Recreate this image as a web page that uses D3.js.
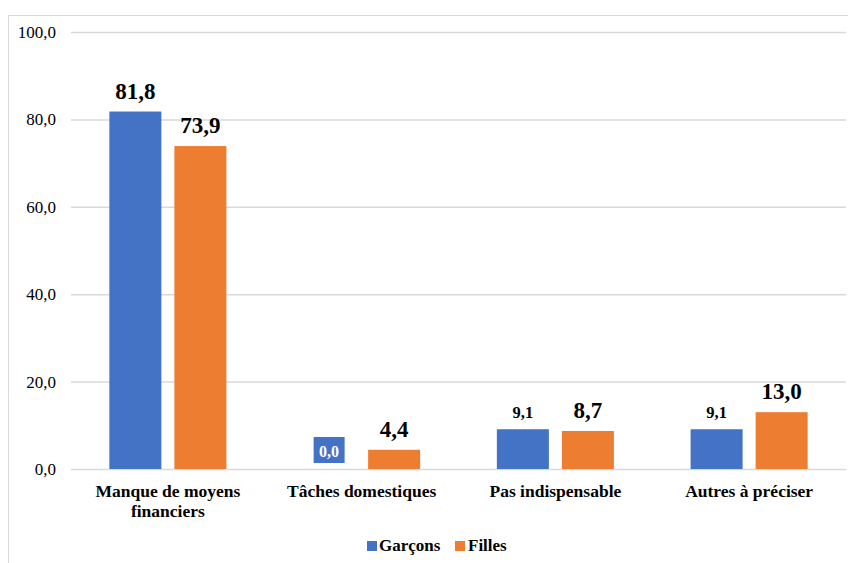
<!DOCTYPE html>
<html>
<head>
<meta charset="utf-8">
<script src="https://cdn.jsdelivr.net/npm/d3@7"></script>
<style>
  body { margin: 0; background: #fff; }
  svg, svg text { font-family: 'Liberation Serif', 'Times New Roman', Times, 'DejaVu Serif', serif; }
</style>
</head>
<body>
<div class="chart"></div>
<script>
// data
const categories = ['Manque de moyens financiers', 'Tâches domestiques', 'Pas indispensable', 'Autres à préciser'];
const seriesNames = ['Garçons', 'Filles'];
const garcons = [81.8, 0.0, 9.1, 9.1];
const filles = [73.9, 4.4, 8.7, 13.0];
const yTicks = [0, 20, 40, 60, 80, 100];

const COLORS = ['#4472C4', '#ED7D31'];
const FONT = "'Liberation Serif', 'Times New Roman', Times, 'DejaVu Serif', serif";
const W = 848;
const H = 563;

const fmt = v => v.toFixed(1).replace('.', ',');

const svg = d3.select('.chart')
  .append('svg')
  .attr('width', W)
  .attr('height', H)
  .attr('font-family', FONT);

// chart area frame (cut off on the right and bottom in the original)
svg.append('rect')
  .attr('x', 8.5)
  .attr('y', 15.5)
  .attr('width', W)
  .attr('height', H)
  .attr('fill', '#fff')
  .attr('stroke', '#d9d9d9');

const x = d3.scaleBand()
  .domain(categories)
  .range([71, 846]);

const xInner = d3.scaleBand()
  .domain(seriesNames)
  .range([0, x.bandwidth()])
  .paddingInner(0.2)
  .paddingOuter(0.59);

const y = d3.scaleLinear()
  .domain([0, 100])
  .range([469, 32]);

// gridlines + tick labels
const yAxis = d3.axisLeft(y)
  .tickValues(yTicks)
  .tickSize(-(846 - 71))
  .tickPadding(15)
  .tickFormat(fmt);

svg.append('g')
  .attr('transform', 'translate(71,0)')
  .call(yAxis)
  .attr('font-family', FONT)
  .attr('font-size', 17)
  .call(g => g.select('.domain').remove())
  .call(g => g.selectAll('.tick line').attr('stroke', '#d9d9d9').attr('stroke-width', 1.5))
  .call(g => g.selectAll('.tick text').attr('fill', '#000'));

const rows = categories.map((c, i) => ({
  category: c,
  values: [
    { key: seriesNames[0], idx: 0, value: garcons[i] },
    { key: seriesNames[1], idx: 1, value: filles[i] }
  ]
}));

const groups = svg.append('g')
  .selectAll('g')
  .data(rows)
  .join('g')
  .attr('transform', d => `translate(${x(d.category)},0)`);

groups.selectAll('rect')
  .data(d => d.values)
  .join('rect')
  .attr('x', d => xInner(d.key))
  .attr('y', d => y(d.value))
  .attr('width', xInner.bandwidth())
  .attr('height', d => y(0) - y(d.value))
  .attr('fill', d => COLORS[d.idx]);

// value labels: blue bars under 10 use a smaller font, zero gets a filled box
groups.each(function (d) {
  const g = d3.select(this);
  d.values.forEach(v => {
    const cx = xInner(v.key) + xInner.bandwidth() / 2;
    const small = v.idx === 0 && v.value < 10;
    if (v.value === 0) {
      g.append('rect')
        .attr('x', cx - 15.5)
        .attr('y', y(0) - 32)
        .attr('width', 31)
        .attr('height', 26)
        .attr('fill', COLORS[v.idx]);
      g.append('text')
        .attr('x', cx)
        .attr('y', y(0) - 12)
        .attr('text-anchor', 'middle')
        .attr('font-weight', 'bold')
        .attr('font-size', 16)
        .attr('fill', '#fff')
        .text(fmt(v.value));
      return;
    }
    g.append('text')
      .attr('x', cx)
      .attr('y', y(v.value) - (small ? 11 : 13))
      .attr('text-anchor', 'middle')
      .attr('font-weight', 'bold')
      .attr('font-size', small ? 16.5 : 23)
      .attr('fill', '#000')
      .text(fmt(v.value));
  });
});

// category labels (first one wraps on two lines)
const catLines = c => (c === categories[0] ? ['Manque de moyens', 'financiers'] : [c]);

svg.append('g')
  .selectAll('text')
  .data(categories)
  .join('text')
  .attr('x', d => x(d) + x.bandwidth() / 2)
  .attr('y', 497)
  .attr('text-anchor', 'middle')
  .attr('font-weight', 'bold')
  .attr('font-size', 17.5)
  .attr('fill', '#000')
  .each(function (d) {
    d3.select(this).selectAll('tspan')
      .data(catLines(d))
      .join('tspan')
      .attr('x', x(d) + x.bandwidth() / 2)
      .attr('dy', (t, i) => (i === 0 ? 0 : 20))
      .text(t => t);
  });

// legend
const legendX = [367, 455];
const legend = svg.append('g')
  .selectAll('g')
  .data(seriesNames)
  .join('g')
  .attr('transform', (d, i) => `translate(${legendX[i]},0)`);

legend.append('rect')
  .attr('x', 0)
  .attr('y', 541)
  .attr('width', 10)
  .attr('height', 10)
  .attr('fill', (d, i) => COLORS[i]);

legend.append('text')
  .attr('x', (d, i) => (i === 0 ? 12 : 13))
  .attr('y', 551)
  .attr('font-weight', 'bold')
  .attr('font-size', 17)
  .attr('fill', '#000')
  .text(d => d);
</script>
</body>
</html>
